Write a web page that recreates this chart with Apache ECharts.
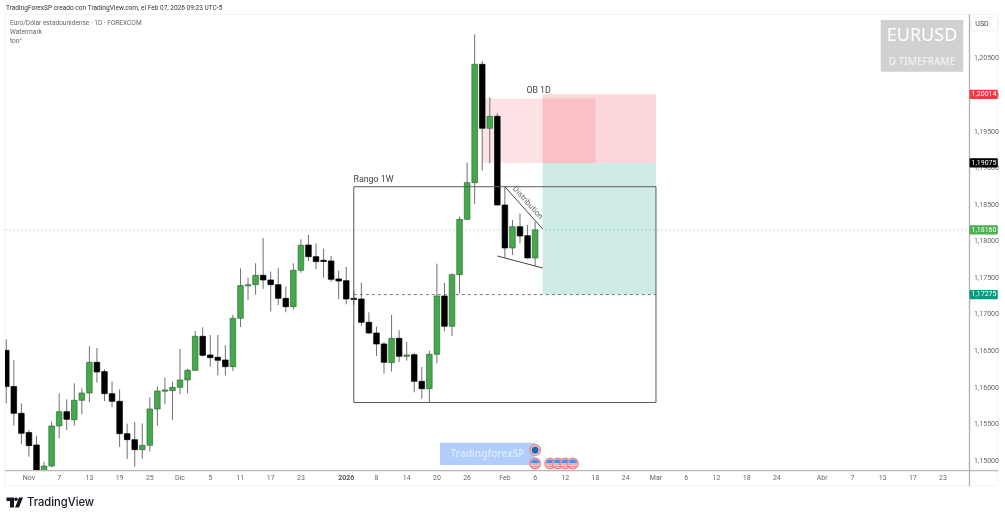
<!DOCTYPE html>
<html>
<head>
<meta charset="utf-8">
<style>
  html, body { margin: 0; padding: 0; background: #fff; }
  #chart { width: 1005px; height: 519px; }
</style>
<script src="https://cdn.jsdelivr.net/npm/echarts@6/dist/echarts.min.js"></script>
</head>
<body>
<div id="chart"></div>
<script>
// daily candles
const opens = [1.16513,1.16017,1.15652,1.15388,1.15219,1.14786,1.14932,1.15479,1.15675,1.15565,1.15830,1.15930,1.16349,1.16222,1.15921,1.15816,1.15374,1.15292,1.15155,1.15214,1.15711,1.15962,1.15962,1.16007,1.16108,1.16240,1.16705,1.16450,1.16418,1.16381,1.16290,1.16951,1.17398,1.17411,1.17539,1.17475,1.17411,1.17224,1.17110,1.17607,1.17953,1.17794,1.17744,1.17735,1.17489,1.17466,1.17224,1.17215,1.16896,1.16750,1.16600,1.16345,1.16677,1.16431,1.16454,1.16089,1.15989,1.16459,1.17256,1.16842,1.17548,1.18304,1.18806,1.20424,1.19549,1.19713,1.18500,1.17913,1.18204,1.18081,1.17776];
const closes = [1.16017,1.15652,1.15379,1.15210,1.14786,1.14932,1.15479,1.15675,1.15570,1.15830,1.15930,1.16349,1.16217,1.15921,1.15816,1.15374,1.15292,1.15155,1.15214,1.15711,1.15957,1.15971,1.16007,1.16108,1.16240,1.16705,1.16445,1.16413,1.16377,1.16290,1.16951,1.17398,1.17411,1.17539,1.17475,1.17411,1.17224,1.17110,1.17607,1.17949,1.17794,1.17726,1.17730,1.17484,1.17461,1.17215,1.17211,1.16896,1.16750,1.16600,1.16349,1.16677,1.16431,1.16450,1.16089,1.15989,1.16459,1.17256,1.16842,1.17548,1.18304,1.18806,1.20424,1.19549,1.19713,1.18500,1.17913,1.18204,1.18077,1.17776,1.18160];
const lows = [1.15789,1.15483,1.15228,1.15060,1.14695,1.14763,1.14914,1.15310,1.15424,1.15483,1.15638,1.15802,1.16071,1.15821,1.15734,1.15192,1.15028,1.14923,1.15032,1.15132,1.15483,1.15775,1.15561,1.15912,1.15925,1.16231,1.16427,1.16290,1.16172,1.16167,1.16231,1.16832,1.17202,1.17274,1.17352,1.17042,1.17133,1.17033,1.17069,1.17575,1.17735,1.17625,1.17507,1.17448,1.17211,1.17142,1.17133,1.16846,1.16741,1.16436,1.16194,1.16222,1.16354,1.16372,1.15939,1.15852,1.15798,1.16336,1.16773,1.16709,1.17293,1.18295,1.18514,1.18970,1.19070,1.18498,1.17780,1.17817,1.17976,1.17767,1.17666];
const highs = [1.16664,1.16381,1.15789,1.15424,1.15347,1.14991,1.15538,1.15925,1.15843,1.16062,1.15994,1.16568,1.16545,1.16254,1.16085,1.15980,1.15511,1.15534,1.15515,1.15871,1.16017,1.16140,1.16085,1.16532,1.16263,1.16778,1.16828,1.16723,1.16723,1.16582,1.17001,1.17634,1.17507,1.17703,1.18049,1.17589,1.17639,1.17384,1.17703,1.18031,1.18090,1.17976,1.17903,1.17803,1.17603,1.17653,1.17338,1.17439,1.17033,1.16837,1.16627,1.16996,1.16787,1.16627,1.16481,1.16285,1.16509,1.17698,1.17434,1.17566,1.18341,1.19079,1.20834,1.20469,1.19972,1.19754,1.18751,1.18295,1.18386,1.18227,1.18272];

// time axis: one slot per trading day, future slots stay empty
const slotCount = 128;
const timeTickSlots = [3,7,11,15,19,23,27,31,35,39,45,49,53,57,61,66,70,74,78,82,86,90,94,98,102,108,112,116,120,124];
const timeTickLabels = ['Nov','7','13','19','25','Dic','5','11','17','23','2026','8','14','20','26','Feb','6','12','18','24','Mar','6','12','18','24','Abr','7','13','17','23'];

// price levels
const lastPrice = 1.18160;
const obTop = 1.20014;
const obBottom = 1.19075;
const obPaleTop = 1.19955;
const targetPrice = 1.17275;
const rangeTop = 1.18750;
const rangeBottom = 1.15800;

// drawings: [slot start, price start, slot end, price end]
const zoneRows = [
  [63, obPaleTop, 78, obBottom, 'rgba(242,54,69,0.14)'],
  [71, obTop, 86, obBottom, 'rgba(242,54,69,0.2)'],
  [71, obBottom, 86, targetPrice, 'rgba(8,153,129,0.2)']
];
const trendRows = [
  [66, 1.18750, 71, 1.18172],
  [65, 1.17803, 71, 1.17639]
];
const noteRows = [
  ['Rango 1W', 49, 1.18840, 0],
  ['OB 1D', 70, 1.20056, 0],
  ['Distribution', 69, 1.18528, -48]
];
// the notes sit between slots, category coords snap to whole slots
const noteShiftX = [-3, 3.5, 0];
const eventRows = [
  [70, 1.15150, 'blue'],
  [70, 1.14966, 'us'],
  [72, 1.14966, 'us'],
  [73, 1.14966, 'us'],
  [74, 1.14966, 'us'],
  [75, 1.14966, 'us']
];
const priceBadges = [
  [obTop, '1,20014', '#f23645'],
  [obBottom, '1,19075', '#000000'],
  [lastPrice, '1,18160', '#4caf50'],
  [targetPrice, '1,17275', '#089981']
];

const uiFont = 'Roboto, "Noto Sans", sans-serif';
const categories = new Array(slotCount).fill('');
timeTickSlots.forEach((s, k) => { categories[s] = timeTickLabels[k]; });
const candleRows = opens.map((o, i) => [i, o, closes[i], lows[i], highs[i]]);

// visible pane, the grid runs from 1.145 to 1.21 so that the ticks land on round prices
const paneTop = 14.5;
const paneBottom = 470.7;
const paneLeft = 5;
const paneRight = 969.5;

const chart = echarts.init(document.getElementById('chart'), null, { renderer: 'canvas' });

function paneClip() {
  return { type: 'rect', shape: { x: paneLeft, y: paneTop, width: paneRight - paneLeft, height: paneBottom - paneTop } };
}

function renderCandle(params, api) {
  const x = api.coord([api.value(0), 0])[0];
  const o = api.coord([api.value(0), api.value(1)])[1];
  const c = api.coord([api.value(0), api.value(2)])[1];
  const l = api.coord([api.value(0), api.value(3)])[1];
  const h = api.coord([api.value(0), api.value(4)])[1];
  const up = api.value(2) >= api.value(1);
  const top = Math.min(o, c);
  const height = Math.max(Math.abs(o - c), 1.2);
  return {
    type: 'group',
    clipPath: paneClip(),
    children: [
      { type: 'line', shape: { x1: x, y1: h, x2: x, y2: l }, style: { stroke: '#707070', lineWidth: 1 } },
      {
        type: 'rect',
        shape: { x: x - 2.8, y: top, width: 5.6, height: height },
        style: { fill: up ? '#45a84c' : '#000000', stroke: up ? '#2f6f38' : '#000000', lineWidth: 0.7 }
      }
    ]
  };
}

function renderZone(params, api) {
  const a = api.coord([api.value(0), api.value(1)]);
  const b = api.coord([api.value(2), api.value(3)]);
  return {
    type: 'rect',
    shape: { x: a[0], y: a[1], width: b[0] - a[0], height: b[1] - a[1] },
    style: { fill: zoneRows[params.dataIndex][4] }
  };
}

// last price line runs across the whole pane
function renderLastPrice(params, api) {
  const y = api.coord([0, api.value(0)])[1];
  return {
    type: 'line',
    shape: { x1: paneLeft, y1: y, x2: paneRight, y2: y },
    style: { stroke: '#bfe2c1', lineWidth: 1, lineDash: [2, 2] }
  };
}

function renderEvent(params, api) {
  const p = api.coord([api.value(0), api.value(1)]);
  const isUs = eventRows[params.dataIndex][2] === 'us';
  const children = [
    { type: 'circle', shape: { cx: p[0], cy: p[1], r: 5.2 }, style: { fill: '#ffffff', stroke: '#f0868c', lineWidth: 1.6 } }
  ];
  if (isUs) {
    children.push({ type: 'sector', shape: { cx: p[0], cy: p[1], r: 4.2, r0: 0, startAngle: Math.PI, endAngle: Math.PI * 2 }, style: { fill: '#4a90e8' } });
    children.push({ type: 'line', shape: { x1: p[0] - 3.8, y1: p[1] + 1.3, x2: p[0] + 3.8, y2: p[1] + 1.3 }, style: { stroke: '#ee7f86', lineWidth: 1 } });
    children.push({ type: 'line', shape: { x1: p[0] - 3, y1: p[1] + 3.1, x2: p[0] + 3, y2: p[1] + 3.1 }, style: { stroke: '#ee7f86', lineWidth: 1 } });
  } else {
    children.push({ type: 'circle', shape: { cx: p[0], cy: p[1], r: 3.6 }, style: { fill: '#1f66b5' } });
  }
  return { type: 'group', children };
}

function renderNote(params, api) {
  const p = api.coord([api.value(0), api.value(1)]);
  const row = noteRows[params.dataIndex];
  const slanted = row[3] !== 0;
  return {
    type: 'text',
    x: p[0] + noteShiftX[params.dataIndex],
    y: p[1],
    rotation: row[3] * Math.PI / 180,
    style: {
      text: row[0],
      align: 'center',
      verticalAlign: 'middle',
      font: (slanted ? '8px ' : '8.8px ') + uiFont,
      fill: slanted ? '#666666' : '#444444'
    }
  };
}

function renderBadge(params, api) {
  const p = api.coord([0, api.value(0)]);
  const row = priceBadges[params.dataIndex];
  return {
    type: 'group',
    children: [
      { type: 'rect', shape: { x: 969.5, y: p[1] - 4.6, width: 28.3, height: 9.2, r: 1 }, style: { fill: row[2] } },
      { type: 'text', x: 984, y: p[1], style: { text: row[1], align: 'center', verticalAlign: 'middle', font: '7px ' + uiFont, fill: '#ffffff' } }
    ]
  };
}

const option = {
  animation: false,
  backgroundColor: '#ffffff',
  grid: { left: 2.5, top: 22.16, width: 967, height: 475.41, outerBoundsMode: 'none' },
  xAxis: {
    type: 'category',
    data: categories,
    boundaryGap: true,
    offset: -26.87,
    axisLine: { show: false },
    axisTick: { show: false },
    splitLine: { show: false },
    axisLabel: {
      interval: 0,
      margin: 4,
      hideOverlap: false,
      fontFamily: uiFont,
      fontSize: 7,
      color: '#666666',
      formatter: (v) => (v === '2026' ? '{b|2026}' : v),
      rich: { b: { fontWeight: 'bold', fontSize: 7, color: '#555555', fontFamily: uiFont } }
    }
  },
  yAxis: {
    type: 'value',
    position: 'right',
    min: 1.145,
    max: 1.21,
    interval: 0.005,
    axisLine: { show: false },
    axisTick: { show: false },
    splitLine: { show: false },
    axisLabel: {
      showMinLabel: false,
      showMaxLabel: false,
      margin: 4.5,
      fontFamily: uiFont,
      fontSize: 7,
      color: '#666666',
      formatter: (v) => v.toFixed(5).replace('.', ',')
    }
  },
  series: [
    {
      type: 'custom',
      name: 'last price',
      data: [[lastPrice]],
      encode: { y: 0 },
      renderItem: renderLastPrice,
      clip: false,
      silent: true,
      z: 1
    },
    {
      type: 'custom',
      name: 'zones',
      data: zoneRows.map((r) => r.slice(0, 4)),
      renderItem: renderZone,
      silent: true,
      z: 1
    },
    {
      type: 'custom',
      name: 'EURUSD',
      data: candleRows,
      encode: { x: 0, y: [1, 2, 3, 4] },
      renderItem: renderCandle,
      z: 2
    },
    {
      type: 'line',
      name: 'target',
      data: [[46, targetPrice], [86, targetPrice]],
      symbol: 'none',
      lineStyle: { color: '#777777', width: 1, type: [3, 3] },
      z: 3
    },
    // Rango 1W box
    {
      type: 'line',
      name: 'rango',
      data: [[46, rangeBottom], [46, rangeTop], [86, rangeTop], [86, rangeBottom], [46, rangeBottom]],
      symbol: 'none',
      lineStyle: { color: '#5a5a5a', width: 1 },
      z: 3
    },
    {
      type: 'line',
      name: 'trend upper',
      data: [[trendRows[0][0], trendRows[0][1]], [trendRows[0][2], trendRows[0][3]]],
      symbol: 'none',
      lineStyle: { color: '#444444', width: 1 },
      z: 3
    },
    {
      type: 'line',
      name: 'trend lower',
      data: [[trendRows[1][0], trendRows[1][1]], [trendRows[1][2], trendRows[1][3]]],
      symbol: 'none',
      lineStyle: { color: '#444444', width: 1 },
      z: 3
    },
    {
      type: 'custom',
      name: 'notes',
      data: noteRows.map((r) => [r[1], r[2]]),
      renderItem: renderNote,
      z: 4
    },
    {
      type: 'custom',
      name: 'events',
      data: eventRows.map((r) => [r[0], r[1]]),
      renderItem: renderEvent,
      z: 6
    },
    {
      type: 'custom',
      name: 'badges',
      data: priceBadges.map((r) => [r[0]]),
      encode: { y: 0 },
      renderItem: renderBadge,
      clip: false,
      z: 7
    }
  ],
  graphic: [
    // frame and axis lines
    { type: 'rect', z: 0, shape: { x: 5, y: 14.5, width: 993, height: 471.5 }, style: { fill: 'none', stroke: '#f0f3fa', lineWidth: 1 } },
    { type: 'line', z: 5, shape: { x1: 5, y1: 470.7, x2: 998, y2: 470.7 }, style: { stroke: '#b8b8b8', lineWidth: 1.3 } },
    { type: 'line', z: 5, shape: { x1: 969.5, y1: 14.5, x2: 969.5, y2: 486 }, style: { stroke: '#b0b0b0', lineWidth: 1.3 } },
    // header
    { type: 'text', z: 8, x: 6, y: 8, style: { text: 'TradingForexSP creado con TradingView.com, el Feb 07, 2026 09:23 UTC-5', font: '6.55px ' + uiFont, fill: '#333333', verticalAlign: 'middle' } },
    { type: 'text', z: 8, x: 10, y: 23, style: { text: 'Euro/Dólar estadounidense · 1D · FOREXCOM', font: '6.55px ' + uiFont, fill: '#666666', verticalAlign: 'middle' } },
    { type: 'text', z: 8, x: 10, y: 32.5, style: { text: 'Watermark', font: '6.55px ' + uiFont, fill: '#666666', verticalAlign: 'middle' } },
    { type: 'text', z: 8, x: 10, y: 41.5, style: { text: 'too°', font: '6.55px ' + uiFont, fill: '#666666', verticalAlign: 'middle' } },
    // symbol watermark
    { type: 'rect', z: 8, shape: { x: 880.7, y: 20, width: 82.6, height: 51.7 }, style: { fill: '#d1d1d1' } },
    { type: 'text', z: 9, x: 922, y: 36, style: { text: 'EURUSD', align: 'center', verticalAlign: 'middle', font: '18px "Noto Sans", sans-serif', fill: '#ffffff' } },
    { type: 'text', z: 9, x: 922, y: 62.5, style: { text: 'D TIMEFRAME', align: 'center', verticalAlign: 'middle', font: '500 10px "Noto Sans", sans-serif', fill: '#f2f2f2' } },
    // currency button
    { type: 'rect', z: 8, shape: { x: 971.5, y: 17.5, width: 26, height: 13.5, r: 3 }, style: { fill: '#ffffff', stroke: '#f0f3fa', lineWidth: 1 } },
    { type: 'text', z: 9, x: 982, y: 24.5, style: { text: 'USD', align: 'center', verticalAlign: 'middle', font: '7px ' + uiFont, fill: '#444444' } },
    // author tag
    { type: 'rect', z: 5, shape: { x: 440, y: 442.7, width: 95, height: 22.3 }, style: { fill: '#b0cdfb' } },
    { type: 'text', z: 5, x: 487.5, y: 454.5, style: { text: 'TradingforexSP', align: 'center', verticalAlign: 'middle', font: '600 10px "Noto Sans", sans-serif', fill: '#dbe8fd' } },
    // logo
    { type: 'polygon', z: 8, shape: { points: [[6.5, 497.5], [14, 497.5], [14, 507.5], [10, 507.5], [10, 501], [6.5, 501]] }, style: { fill: '#131722' } },
    { type: 'circle', z: 8, shape: { cx: 16, cy: 499.3, r: 1.8 }, style: { fill: '#131722' } },
    { type: 'polygon', z: 8, shape: { points: [[19, 497.5], [23, 497.5], [19, 507.5], [15, 507.5]] }, style: { fill: '#131722' } },
    { type: 'text', z: 8, x: 27, y: 502.8, style: { text: 'TradingView', verticalAlign: 'middle', font: '500 11.2px Inter, sans-serif', fill: '#131722' } }
  ]
};

chart.setOption(option);
</script>
</body>
</html>
